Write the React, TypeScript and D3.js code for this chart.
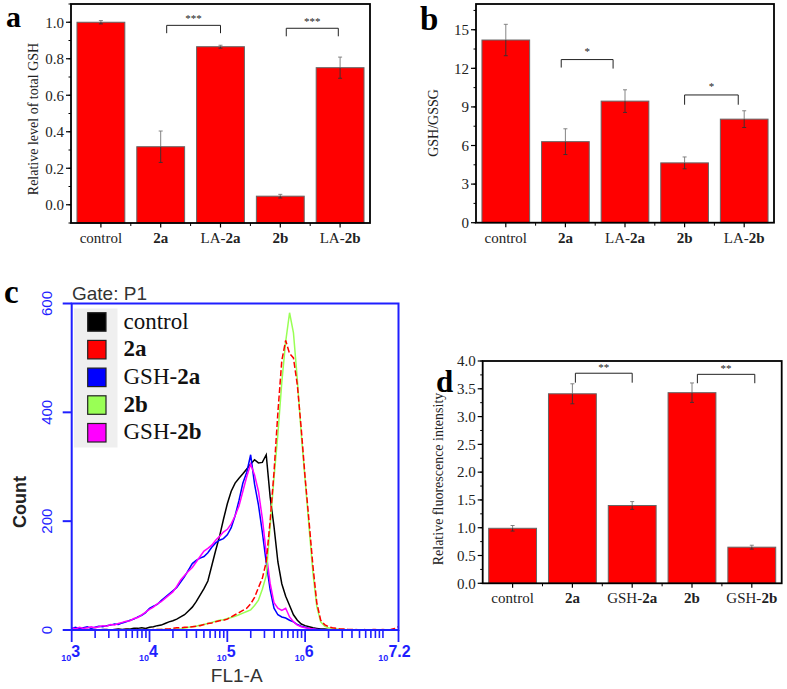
import React from "react";
import * as d3 from "d3";

const SERIF = "'Liberation Serif', 'Times New Roman', serif";
const SANS = "'Liberation Sans', Arial, sans-serif";

// ---- panel a: relative level of total GSH
const prefixA = ["control", "", "LA-", "", "LA-"];
const boldA = ["", "2a", "2a", "2b", "2b"];
const valuesA = [1.0, 0.318, 0.866, 0.047, 0.751];
const errorsA = [0.009, 0.086, 0.008, 0.01, 0.058];
const ticksA = [0, 0.2, 0.4, 0.6, 0.8, 1.0];
const sigA = [
  { from: 2.1, to: 3.0, top: 0.983, footL: 0.94, footR: 0.94, mark: "***" },
  { from: 4.1, to: 4.97, top: 0.967, footL: 0.923, footR: 0.923, mark: "***" },
];

// ---- panel b: GSH/GSSG
const prefixB = ["control", "", "LA-", "", "LA-"];
const boldB = ["", "2a", "2a", "2b", "2b"];
const valuesB = [14.2, 6.3, 9.45, 4.65, 8.05];
const errorsB = [1.22, 1.0, 0.88, 0.46, 0.65];
const ticksB = [0, 3, 6, 9, 12, 15];
const sigB = [
  { from: 1.93, to: 2.8, top: 12.68, footL: 12.06, footR: 11.98, mark: "*" },
  { from: 4.0, to: 4.9, top: 9.93, footL: 9.17, footR: 9.17, mark: "*" },
];

// ---- panel d: relative fluorescence intensity
const prefixD = ["control", "", "GSH-", "", "GSH-"];
const boldD = ["", "2a", "2a", "2b", "2b"];
const valuesD = [0.99, 3.41, 1.4, 3.43, 0.65];
const errorsD = [0.05, 0.18, 0.07, 0.175, 0.035];
const ticksD = [0, 0.5, 1.0, 1.5, 2.0, 2.5, 3.0, 3.5, 4.0];
const sigD = [
  { from: 2.05, to: 3.0, top: 3.78, footL: 3.61, footR: 3.61, mark: "**" },
  { from: 4.09, to: 5.05, top: 3.76, footL: 3.6, footR: 3.6, mark: "**" },
];

// ---- panel c: flow cytometry histograms, counts per bin (log10 FL1-A from 3.0 to 7.2, step 0.05)
const binStart = 3.0;
const binStep = 0.05;
const countControl = [
  0, 0, 1, 0, 1, 0, 1, 0, 1, 1,
  0, 1, 2, 1, 2, 2, 3, 3, 4, 3,
  5, 6, 8, 9, 12, 15, 17, 20, 24, 28,
  35, 42, 52, 64, 76, 90, 118, 146, 172, 203,
  232, 255, 270, 279, 287, 296, 305, 313, 307, 308,
  322, 245, 190, 125, 85, 62, 45, 28, 18, 11,
  8, 6, 4, 3, 2, 2, 1, 1, 1, 0,
  0, 0, 0, 0, 0, 0, 0, 0, 0, 0,
  0, 0, 0, 0, 0,
];
const count2a = [
  0, 0, 0, 0, 0, 0, 0, 0, 0, 0,
  0, 0, 0, 0, 1, 0, 0, 1, 0, 1,
  0, 1, 1, 1, 2, 2, 3, 4, 4, 5,
  5, 6, 7, 8, 10, 12, 13, 15, 17, 18,
  20, 24, 28, 32, 36, 40, 48, 60, 78, 95,
  125, 200, 290, 400, 495, 532, 508, 500, 450, 370,
  280, 200, 118, 50, 18, 10, 6, 4, 3, 2,
  2, 1, 1, 1, 0, 1, 0, 1, 1, 0,
  1, 0, 1, 3, 6,
];
const countGsh2a = [
  3, 5, 2, 4, 6, 3, 5, 7, 6, 8,
  9, 11, 10, 13, 15, 18, 20, 24, 27, 32,
  40, 44, 47, 54, 60, 66, 72, 78, 88, 98,
  110, 122, 128, 132, 135, 142, 152, 160, 165, 168,
  175, 188, 210, 238, 270, 290, 322, 268, 230, 180,
  124, 74, 40, 28, 24, 22, 18, 15, 10, 7,
  5, 3, 2, 1, 1, 0, 0, 0, 0, 0,
  0, 0, 0, 0, 0, 0, 0, 0, 0, 0,
  0, 0, 0, 0, 0,
];
const count2b = [
  0, 0, 0, 0, 0, 0, 0, 0, 0, 0,
  0, 0, 0, 0, 0, 1, 0, 0, 1, 0,
  1, 0, 1, 1, 1, 1, 1, 2, 2, 3,
  5, 6, 7, 9, 10, 12, 14, 16, 18, 19,
  21, 23, 25, 28, 31, 34, 37, 45, 55, 75,
  100, 190, 280, 360, 455, 530, 583, 546, 460, 360,
  275, 190, 105, 43, 15, 7, 4, 3, 2, 1,
  1, 0, 0, 0, 0, 0, 0, 0, 0, 0,
  0, 0, 0, 0, 0,
];
const countGsh2b = [
  4, 2, 5, 3, 4, 6, 4, 6, 8, 7,
  10, 9, 12, 14, 16, 17, 21, 23, 28, 33,
  38, 42, 48, 52, 58, 64, 70, 80, 92, 100,
  108, 115, 125, 135, 145, 150, 156, 165, 172, 180,
  185, 195, 210, 228, 255, 282, 305, 285, 255, 205,
  142, 86, 50, 40, 36, 40, 24, 15, 9, 6,
  4, 3, 2, 1, 0, 0, 0, 0, 0, 0,
  0, 0, 0, 0, 0, 0, 0, 0, 0, 0,
  0, 0, 0, 0, 0,
];
const flowPrefix = ["control", "", "GSH-", "", "GSH-"];
const flowBold = ["", "2a", "2a", "2b", "2b"];
const flowColors = ["#000000", "#ff0000", "#0000ff", "#99ff55", "#ff00ff"];
const flowCounts = [countControl, count2a, countGsh2a, count2b, countGsh2b];
const drawOrder = [0, 2, 4, 3, 1];
const countTicks = [0, 200, 400, 600];
const decadeTicks = [3, 4, 5, 6, 7.2];

const BLUE = "#1f1fff";

function Label({ prefix, bold }: { prefix: string; bold: string }) {
  return (
    <>
      {prefix && <tspan>{prefix}</tspan>}
      {bold && <tspan fontWeight="bold">{bold}</tspan>}
    </>
  );
}

interface BarPanelProps {
  frame: [number, number, number, number];
  domain: [number, number];
  ticks: number[];
  minorStep: number;
  fmt: (v: number) => string;
  prefixes: string[];
  bolds: string[];
  values: number[];
  errors: number[];
  title: string;
  titleX: number;
  titleY: number;
  titleSize: number;
  sig: { from: number; to: number; top: number; footL: number; footR: number; mark: string }[];
  starGap: number;
}

function BarPanel(p: BarPanelProps) {
  const [left, top, right, bottom] = p.frame;
  const x = d3.scaleLinear().domain([0.5, 5.5]).range([left, right]);
  const y = d3.scaleLinear().domain(p.domain).range([bottom, top]);
  const bw = (x(1) - x(0)) * 0.8;
  const n0 = Math.round(p.domain[0] / p.minorStep);
  const n1 = Math.round(p.domain[1] / p.minorStep);
  const minors = d3.range(n0, n1 + 1).map((k) => k * p.minorStep);
  const cats = d3.range(1, 6);
  const bounds = [1.5, 2.5, 3.5, 4.5];
  return (
    <g>
      {p.values.map((v, i) => (
        <rect
          key={i}
          x={x(i + 1) - bw / 2}
          y={y(v)}
          width={bw}
          height={y(p.domain[0]) - y(v)}
          fill="#ff0000"
          stroke="#666"
          strokeWidth={1}
        />
      ))}
      {p.values.map((v, i) => {
        const cx = x(i + 1);
        const hi = y(v + p.errors[i]);
        const lo = y(v - p.errors[i]);
        return (
          <g key={i} strokeWidth={0.9}>
            <line x1={cx} x2={cx} y1={hi} y2={y(v)} stroke="#777" />
            <line x1={cx} x2={cx} y1={y(v)} y2={lo} stroke="#333" />
            <line x1={cx - 2} x2={cx + 2} y1={hi} y2={hi} stroke="#777" />
            <line x1={cx - 2} x2={cx + 2} y1={lo} y2={lo} stroke="#333" />
          </g>
        );
      })}
      {p.sig.map((s, i) => (
        <g key={i}>
          <path
            d={`M${x(s.from)},${y(s.footL)}V${y(s.top)}H${x(s.to)}V${y(s.footR)}`}
            fill="none"
            stroke="#222"
            strokeWidth={1}
          />
          <text
            x={(x(s.from) + x(s.to)) / 2}
            y={y(s.top) - p.starGap}
            textAnchor="middle"
            fontFamily={SERIF}
            fontSize={11}
            fill="#222"
          >
            {s.mark}
          </text>
        </g>
      ))}
      <rect x={left} y={top} width={right - left} height={bottom - top} fill="none" stroke="#000" strokeWidth={1.8} />
      {minors.map((v, i) => (
        <line key={i} x1={left - 2.5} x2={left} y1={y(v)} y2={y(v)} stroke="#000" strokeWidth={1} />
      ))}
      {p.ticks.map((v, i) => (
        <g key={i}>
          <line x1={left - 5} x2={left} y1={y(v)} y2={y(v)} stroke="#000" strokeWidth={1.2} />
          <text
            x={left - 7}
            y={y(v)}
            dy="0.35em"
            textAnchor="end"
            fontFamily={SERIF}
            fontSize={15}
            fill="#222"
          >
            {p.fmt(v)}
          </text>
        </g>
      ))}
      {cats.map((c) => (
        <line key={c} x1={x(c)} x2={x(c)} y1={bottom} y2={bottom + 4.5} stroke="#000" strokeWidth={1.2} />
      ))}
      {bounds.map((c) => (
        <line key={c} x1={x(c)} x2={x(c)} y1={bottom} y2={bottom + 3} stroke="#000" strokeWidth={1} />
      ))}
      {cats.map((c, i) => (
        <text
          key={c}
          x={x(c)}
          y={bottom + 20}
          textAnchor="middle"
          fontFamily={SERIF}
          fontSize={15}
          fill="#222"
        >
          <Label prefix={p.prefixes[i]} bold={p.bolds[i]} />
        </text>
      ))}
      <text
        transform={`translate(${p.titleX},${p.titleY}) rotate(-90)`}
        textAnchor="middle"
        dominantBaseline="central"
        fontFamily={SERIF}
        fontSize={p.titleSize}
        fill="#222"
      >
        {p.title}
      </text>
    </g>
  );
}

function FlowPanel() {
  const left = 71.7;
  const right = 398.5;
  const top = 303.5;
  const bottom = 630;
  const x = d3.scaleLog().domain([1e3, 10 ** 7.2]).range([left, right]);
  const y = d3.scaleLinear().domain([0, 600]).range([bottom, top]);
  const line = d3
    .line<number>()
    .x((_, i) => x(10 ** (binStart + i * binStep)))
    .y((d) => y(d));
  const minors = x.ticks().filter((t) => {
    const l = Math.log10(t);
    return Math.abs(l - Math.round(l)) > 1e-6 || l > 6.5;
  });
  return (
    <g>
      <defs>
        <clipPath id="flowclip">
          <rect x={left} y={top} width={right - left} height={bottom - top} />
        </clipPath>
      </defs>
      <text x={72} y={300} fontFamily={SANS} fontSize={19} fill="#333">
        Gate: P1
      </text>
      {/* legend */}
      <rect x={74} y={308.5} width={43.5} height={139} fill="#efefef" />
      {flowPrefix.map((pre, i) => (
        <g key={i}>
          <rect
            x={87.7}
            y={312.7 + i * 27.7}
            width={18.3}
            height={18.5}
            fill={flowColors[i]}
            stroke="#222"
            strokeWidth={1.2}
          />
          <text x={123.5} y={328.5 + i * 27.7} fontFamily={SERIF} fontSize={23} fill="#111">
            <Label prefix={pre} bold={flowBold[i]} />
          </text>
        </g>
      ))}
      <g clipPath="url(#flowclip)">
        {drawOrder.map((k) => (
          <path
            key={k}
            d={line(flowCounts[k]) || ""}
            fill="none"
            stroke={flowColors[k]}
            strokeWidth={1.5}
            strokeDasharray={k === 1 ? "6,2.5" : undefined}
          />
        ))}
      </g>
      <rect x={left} y={top} width={right - left} height={bottom - top} fill="none" stroke={BLUE} strokeWidth={2} />
      {countTicks.map((c) => (
        <g key={c}>
          <line x1={left - 9} x2={left} y1={y(c)} y2={y(c)} stroke={BLUE} strokeWidth={2} />
          <text
            transform={`translate(46.5,${y(c)}) rotate(-90)`}
            textAnchor="middle"
            dominantBaseline="central"
            fontFamily={SANS}
            fontSize={15}
            fill={BLUE}
          >
            {c}
          </text>
        </g>
      ))}
      {minors.map((t, i) => (
        <line key={i} x1={x(t)} x2={x(t)} y1={bottom} y2={bottom + 8} stroke={BLUE} strokeWidth={1.6} />
      ))}
      {decadeTicks.map((d) => (
        <g key={d}>
          <line x1={x(10 ** d)} x2={x(10 ** d)} y1={bottom} y2={bottom + 12} stroke={BLUE} strokeWidth={1.8} />
          <text x={x(10 ** d) - (d > 7 ? 4 : 1)} y={661} textAnchor="middle" fontFamily={SANS} fontWeight="bold" fill={BLUE}>
            <tspan fontSize={9}>10</tspan>
            <tspan fontSize={16} dy={-4}>
              {d}
            </tspan>
          </text>
        </g>
      ))}
      <text x={236.7} y={681.5} textAnchor="middle" fontFamily={SANS} fontSize={19} fill="#333">
        FL1-A
      </text>
      <text
        transform="translate(20,502) rotate(-90)"
        textAnchor="middle"
        dominantBaseline="central"
        fontFamily={SANS}
        fontWeight="bold"
        fontSize={18}
        fill="#222"
      >
        Count
      </text>
    </g>
  );
}

export default function App() {
  const f1 = d3.format(".1f");
  const f0 = d3.format("d");
  return (
    <div style={{ position: "absolute", left: 0, top: 0 }}>
      <svg width={787} height={689} style={{ display: "block", background: "#fff" }}>
        <BarPanel
          frame={[71, 4, 370, 223]}
          domain={[-0.1, 1.1]}
          ticks={ticksA}
          minorStep={0.1}
          fmt={f1}
          prefixes={prefixA}
          bolds={boldA}
          values={valuesA}
          errors={errorsA}
          title="Relative level of total GSH"
          titleX={33}
          titleY={119}
          titleSize={14}
          sig={sigA}
          starGap={3}
        />
        <BarPanel
          frame={[476, 4, 774, 222.7]}
          domain={[0, 17]}
          ticks={ticksB}
          minorStep={1.5}
          fmt={f0}
          prefixes={prefixB}
          bolds={boldB}
          values={valuesB}
          errors={errorsB}
          title="GSH/GSSG"
          titleX={433}
          titleY={123}
          titleSize={14}
          sig={sigB}
          starGap={5}
        />
        <BarPanel
          frame={[482.7, 361, 781.7, 583.3]}
          domain={[0, 4]}
          ticks={ticksD}
          minorStep={0.25}
          fmt={f1}
          prefixes={prefixD}
          bolds={boldD}
          values={valuesD}
          errors={errorsD}
          title="Relative fluorescence intensity"
          titleX={438}
          titleY={479}
          titleSize={14}
          sig={sigD}
          starGap={2}
        />
        <FlowPanel />
        <g fontFamily={SERIF} fontWeight="bold" fill="#000">
          <text x={6} y={27} fontSize={30}>a</text>
          <text x={420} y={30} fontSize={33}>b</text>
          <text x={4} y={303} fontSize={33}>c</text>
          <text x={436} y={392} fontSize={31}>d</text>
        </g>
      </svg>
    </div>
  );
}
